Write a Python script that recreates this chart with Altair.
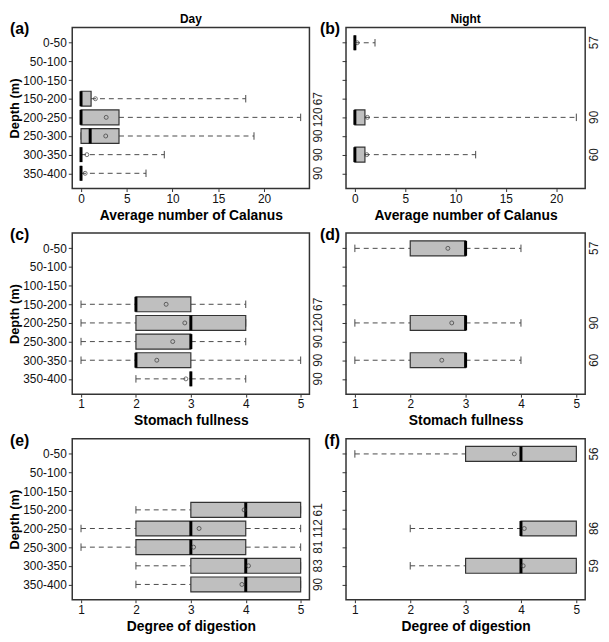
import json
import altair as alt
import pandas as pd

# ---------------- data ----------------
depth_labels = ["0-50", "50-100", "100-150", "150-200",
                "200-250", "250-300", "300-350", "350-400"]

day_depths = ["150-200", "200-250", "250-300", "300-350", "350-400"]
night_depths = ["0-50", "200-250", "300-350"]

# (a) Day - average number of Calanus
a_lo = [0, 0, 0, 0, 0]
a_q1 = [0, 0, 0, 0, 0]
a_med = [0, 0, 1.0, 0, 0]
a_q3 = [1.1, 4.15, 4.15, 0, 0]
a_hi = [18.0, 24.0, 18.9, 9.1, 7.1]
a_mean = [1.57, 2.75, 2.7, 0.64, 0.45]
a_n = [67, 120, 90, 90, 90]

# (b) Night - average number of Calanus
b_lo = [0, 0, 0]
b_q1 = [0, 0, 0]
b_med = [0, 0, 0]
b_q3 = [0, 1.0, 1.0]
b_hi = [2.0, 22.0, 12.0]
b_mean = [0.23, 1.25, 1.18]
b_n = [57, 90, 60]

# (c) Day - stomach fullness
c_lo = [1, 1, 1, 1, 2]
c_q1 = [2, 2, 2, 2, 3]
c_med = [2, 3, 3, 2, 3]
c_q3 = [3, 4, 3, 3, 3]
c_hi = [4, 4, 4, 5, 4]
c_mean = [2.55, 2.89, 2.67, 2.38, 2.91]
c_n = [67, 120, 90, 90, 90]

# (d) Night - stomach fullness
d_lo = [1, 1, 1]
d_q1 = [2, 2, 2]
d_med = [3, 3, 3]
d_q3 = [3, 3, 3]
d_hi = [4, 4, 4]
d_mean = [2.68, 2.75, 2.57]
d_n = [57, 90, 60]

# (e) Day - degree of digestion
e_lo = [2, 1, 1, 2, 2]
e_q1 = [3, 2, 2, 3, 3]
e_med = [4, 3, 3, 4, 4]
e_q3 = [5, 4, 4, 5, 5]
e_hi = [5, 5, 5, 5, 5]
e_mean = [3.97, 3.15, 3.05, 4.05, 3.93]
e_n = [61, 112, 81, 83, 90]

# (f) Night - degree of digestion
f_lo = [1, 2, 2]
f_q1 = [3, 4, 3]
f_med = [4, 4, 4]
f_q3 = [5, 5, 5]
f_hi = [5, 5, 5]
f_mean = [3.88, 4.06, 4.04]
f_n = [56, 86, 59]

calanus_ticks = [0, 5, 10, 15, 20]
score_ticks = [1, 2, 3, 4, 5]

# ---------------- layout / style ----------------
W_L, W_R, H = 240, 242, 163
FONT = "Liberation Sans"
BOX_FILL = "#bfbfbf"
DARK = "#333333"
WHISK = "#4a4a4a"

label_expr = "%s[round(datum.value) - 1]" % json.dumps(depth_labels)


def panel(depths, lo, q1, med, q3, hi, mean, n, xdomain, xticks, xtitle,
          letter, left, width, top_title=None):
    df = pd.DataFrame({"depth": depths, "lo": lo, "q1": q1, "med": med,
                       "q3": q3, "hi": hi, "mean": mean, "n": n})
    df["idx"] = [depth_labels.index(d) + 1 for d in depths]

    base = alt.Chart(df).transform_calculate(
        y0="datum.idx - 0.4", y1="datum.idx + 0.4",
        s0="datum.idx - 0.2", s1="datum.idx + 0.2")

    xs = alt.Scale(domain=xdomain, nice=False, zero=False)
    ys = alt.Scale(domain=[0.18, 8.82], reverse=True, nice=False, zero=False)

    xaxis = alt.Axis(values=xticks, title=xtitle, format="d",
                     labelFontSize=12, titleFontSize=14, titleFontWeight="bold",
                     tickSize=3, labelPadding=2, titlePadding=4,
                     labelFlush=False, labelOverlap=False)
    if left:
        yaxis = alt.Axis(values=list(range(1, 9)), labelExpr=label_expr,
                         labelFontSize=12, tickSize=4, labelPadding=2,
                         title="Depth (m)", titleFontSize=13,
                         titleFontWeight="bold", titleAngle=270,
                         titleBaseline="bottom", titleX=-51, titleY=H / 2,
                         titleAlign="center", labelOverlap=False)
    else:
        yaxis = alt.Axis(values=list(range(1, 9)), labels=False,
                         tickSize=4, title=None)

    def X(f):
        return alt.X(f, scale=xs, axis=xaxis)

    def Y(f):
        return alt.Y(f, scale=ys, axis=yaxis)

    whisk_lo = base.mark_rule(strokeDash=[5, 4], color=WHISK, strokeWidth=1).encode(
        x=X("lo:Q"), x2="q1:Q", y=Y("idx:Q"))
    whisk_hi = base.mark_rule(strokeDash=[5, 4], color=WHISK, strokeWidth=1).encode(
        x=X("q3:Q"), x2="hi:Q", y=Y("idx:Q"))
    staple_lo = base.mark_rule(color=WHISK, strokeWidth=1).encode(
        x=X("lo:Q"), y=Y("s0:Q"), y2="s1:Q")
    staple_hi = base.mark_rule(color=WHISK, strokeWidth=1).encode(
        x=X("hi:Q"), y=Y("s0:Q"), y2="s1:Q")
    box = base.mark_rect(fill=BOX_FILL, stroke=DARK, strokeWidth=1.2).encode(
        x=X("q1:Q"), x2="q3:Q", y=Y("y0:Q"), y2="y1:Q")
    median = base.mark_rule(color="black", strokeWidth=3).encode(
        x=X("med:Q"), y=Y("y0:Q"), y2="y1:Q")
    mean_pt = base.mark_point(shape="circle", size=16, filled=False,
                              color=DARK, strokeWidth=1).encode(
        x=X("mean:Q"), y=Y("idx:Q"))
    counts = base.mark_text(angle=270, fontSize=12, color="#222222",
                            align="center", baseline="middle").encode(
        x=alt.value(width + 9), y=Y("idx:Q"), text="n:N")
    lab = alt.Chart(pd.DataFrame({"t": [letter]})).mark_text(
        fontSize=16, fontWeight="bold", baseline="top",
        align="left" if left else "right", color="black").encode(
        x=alt.value(-63 if left else -6), y=alt.value(-6), text="t:N")

    layers = [whisk_lo, whisk_hi, staple_lo, staple_hi, box, median,
              mean_pt, counts, lab]
    if top_title:
        head = alt.Chart(pd.DataFrame({"t": [top_title]})).mark_text(
            fontSize=12, fontWeight="bold", baseline="alphabetic",
            align="center", color="black").encode(
            x=alt.value(width / 2), y=alt.value(-5), text="t:N")
        layers.append(head)
    return alt.layer(*layers).properties(width=width, height=H)


cal_day_dom = [-0.96, 24.96]
cal_night_dom = [-0.88, 22.88]
score_dom = [0.84, 5.16]

pa = panel(day_depths, a_lo, a_q1, a_med, a_q3, a_hi, a_mean, a_n,
           cal_day_dom, calanus_ticks, "Average number of Calanus", "(a)",
           True, W_L, "Day")
pb = panel(night_depths, b_lo, b_q1, b_med, b_q3, b_hi, b_mean, b_n,
           cal_night_dom, calanus_ticks, "Average number of Calanus", "(b)",
           False, W_R, "Night")
pc = panel(day_depths, c_lo, c_q1, c_med, c_q3, c_hi, c_mean, c_n,
           score_dom, score_ticks, "Stomach fullness", "(c)", True, W_L)
pd_ = panel(night_depths, d_lo, d_q1, d_med, d_q3, d_hi, d_mean, d_n,
            score_dom, score_ticks, "Stomach fullness", "(d)", False, W_R)
pe = panel(day_depths, e_lo, e_q1, e_med, e_q3, e_hi, e_mean, e_n,
           score_dom, score_ticks, "Degree of digestion", "(e)", True, W_L)
pf = panel(night_depths, f_lo, f_q1, f_med, f_q3, f_hi, f_mean, f_n,
           score_dom, score_ticks, "Degree of digestion", "(f)", False, W_R)

chart = alt.concat(
    pa, pb, pc, pd_, pe, pf, columns=2,
    spacing={"row": 45, "column": 37}, bounds="flush",
).properties(padding=0).configure_view(
    stroke=DARK, strokeWidth=1.5
).configure_axis(
    grid=False, domain=False, labelFont=FONT, titleFont=FONT,
    labelColor="#111111", titleColor="#000000", tickColor=DARK
).configure_text(font=FONT)

chart.save("out.html", embed_options={"renderer": "svg", "actions": False})
